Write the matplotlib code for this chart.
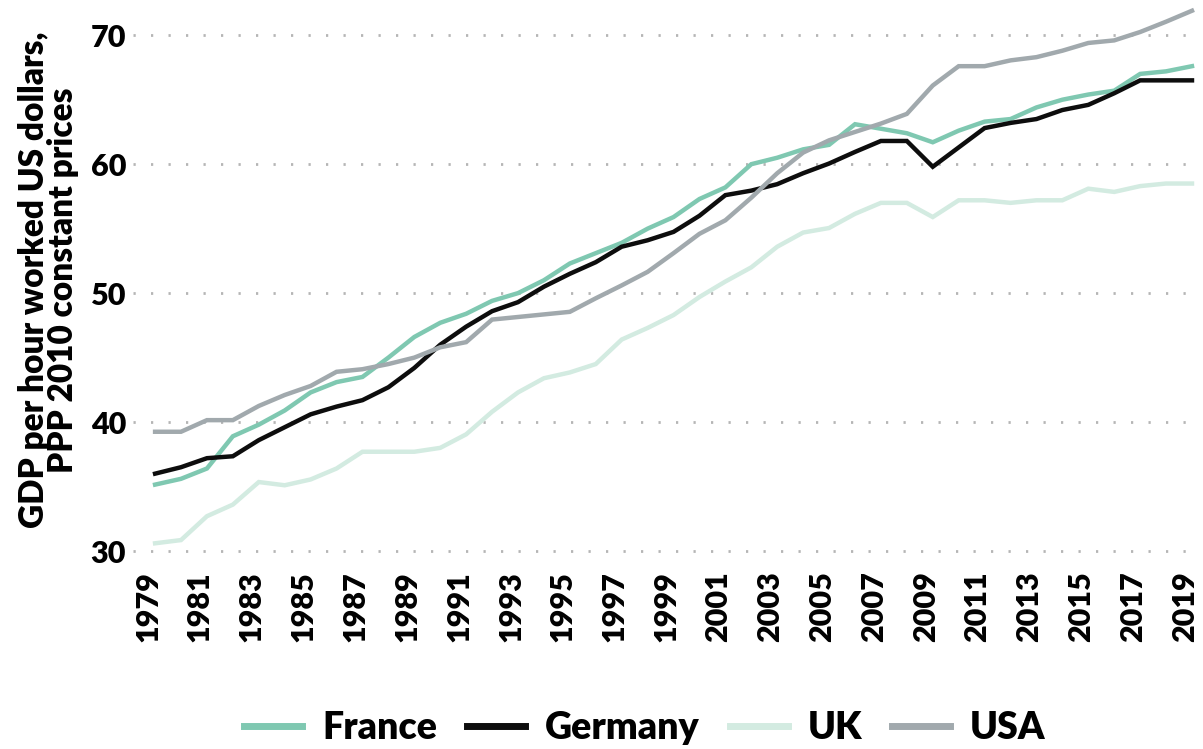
import matplotlib
matplotlib.use("Agg")
import matplotlib.pyplot as plt
import matplotlib.transforms as mtransforms

plt.rcParams['font.family'] = ['Lato', 'DejaVu Sans']

years = list(range(1979, 2020))

france = [35.15, 35.6, 36.4, 38.9, 39.8, 40.9, 42.3, 43.1, 43.5, 45.0,
          46.6, 47.7, 48.4, 49.4, 50.0, 51.0, 52.3, 53.1, 53.9, 55.0,
          55.9, 57.3, 58.2, 60.0, 60.5, 61.15, 61.5, 63.1, 62.75, 62.4,
          61.7, 62.6, 63.3, 63.5, 64.4, 65.0, 65.4, 65.7, 67.0, 67.2, 67.6]

germany = [36.0, 36.5, 37.2, 37.35, 38.6, 39.6, 40.6, 41.2, 41.7, 42.7,
           44.2, 46.0, 47.4, 48.6, 49.3, 50.5, 51.5, 52.4, 53.6, 54.1,
           54.75, 56.0, 57.6, 57.95, 58.45, 59.3, 60.05, 60.95, 61.8, 61.8,
           59.8, 61.3, 62.8, 63.2, 63.5, 64.2, 64.6, 65.5, 66.5, 66.5, 66.5]

uk = [30.6, 30.85, 32.7, 33.6, 35.35, 35.1, 35.55, 36.4, 37.7, 37.7,
      37.7, 38.0, 39.05, 40.8, 42.3, 43.4, 43.85, 44.5, 46.4, 47.3,
      48.3, 49.7, 50.9, 52.0, 53.6, 54.7, 55.05, 56.15, 57.0, 57.0,
      55.9, 57.2, 57.2, 57.0, 57.2, 57.2, 58.1, 57.85, 58.3, 58.5, 58.5]

usa = [39.25, 39.25, 40.15, 40.15, 41.25, 42.1, 42.8, 43.9, 44.1, 44.5,
       45.0, 45.8, 46.2, 47.95, 48.15, 48.35, 48.55, 49.6, 50.6, 51.65,
       53.1, 54.6, 55.65, 57.4, 59.3, 60.9, 61.85, 62.5, 63.15, 63.9,
       66.1, 67.6, 67.6, 68.05, 68.3, 68.8, 69.4, 69.6, 70.25, 71.05, 71.9]

y_ticks = [30, 40, 50, 60, 70]
x_ticks = list(range(1979, 2020, 2))

fig = plt.figure(figsize=(12.03, 7.49), dpi=100)
ax = fig.add_axes([0.1106, 0.2557, 0.8824, 0.7403])

ax.plot(years, france, color='#7fc8b1', lw=3.2, label='France', solid_joinstyle='miter')
ax.plot(years, germany, color='#0d0d0d', lw=3.2, label='Germany', solid_joinstyle='miter')
ax.plot(years, uk, color='#d3ebe1', lw=3.2, label='UK', solid_joinstyle='miter')
ax.plot(years, usa, color='#a1a9ad', lw=3.2, label='USA', solid_joinstyle='miter')

ax.set_xlim(1978.15, 2019.1)
ax.set_ylim(29.5, 72.5)
ax.set_yticks(y_ticks)
ax.set_xticks(x_ticks)
ax.set_xticklabels([str(y) for y in x_ticks], rotation=90)

for v in y_ticks:
    ax.axhline(v, color='#b5b5b5', lw=2, ls=(0, (0.8, 5.5)), zorder=0)

for s in ax.spines.values():
    s.set_visible(False)
ax.tick_params(axis='both', length=0, labelsize=22)
ax.tick_params(axis='y', pad=5)
ax.tick_params(axis='x', pad=10)
shift = mtransforms.ScaledTranslation(-7 / 100, 0, fig.dpi_scale_trans)
for tl in ax.get_xticklabels():
    tl.set_fontweight('heavy')
    tl.set_transform(tl.get_transform() + shift)
for tl in ax.get_yticklabels():
    tl.set_fontweight('heavy')

ax.set_ylabel('GDP per hour worked US dollars,\nPPP 2010 constant prices',
              fontsize=24, fontweight='heavy', linespacing=0.9, labelpad=8)

fig.legend(loc='lower center', bbox_to_anchor=(0.536, -0.04), ncol=4,
           frameon=False, handlelength=1.55, handletextpad=0.53,
           columnspacing=0.8, prop={'weight': 'heavy', 'size': 27})
for line in fig.legends[0].get_lines():
    line.set_linewidth(5)

fig.savefig('out.png', dpi=100)
